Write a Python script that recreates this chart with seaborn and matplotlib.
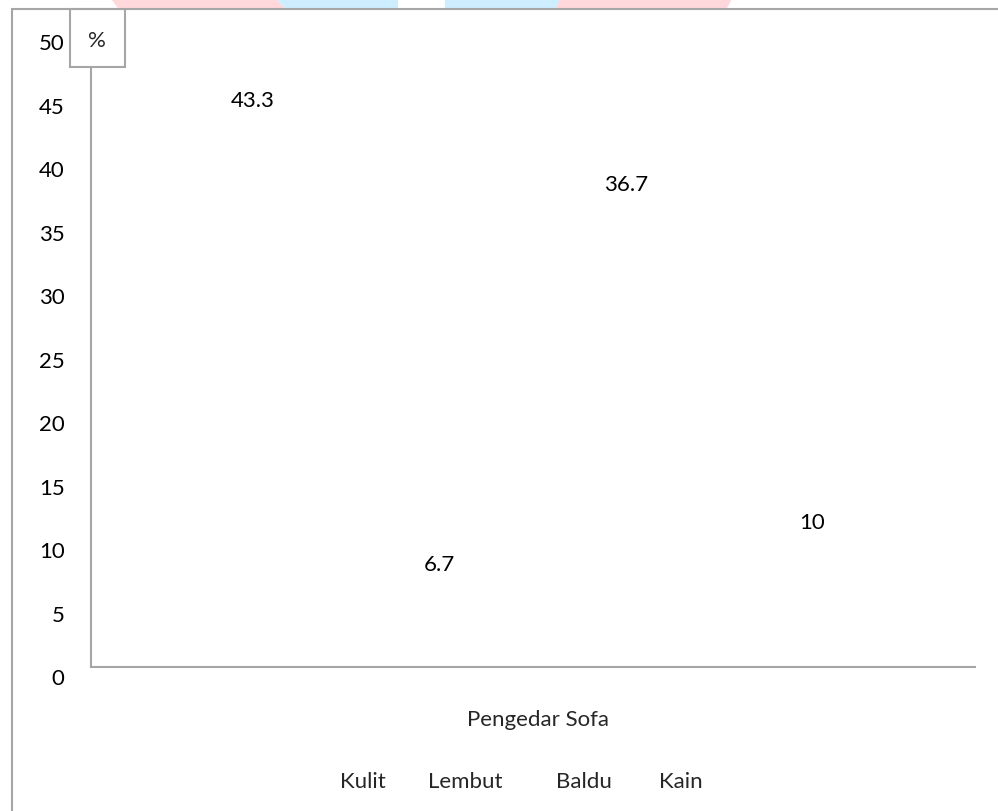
import matplotlib
matplotlib.use("Agg")
import matplotlib.pyplot as plt
import matplotlib.transforms as mtransforms
from matplotlib.patches import Rectangle, Polygon
from matplotlib.lines import Line2D
import seaborn as sns

categories = ["Kulit", "Lembut", "Baldu", "Kain"]
values = [43.3, 6.7, 36.7, 10]
value_labels = ["43.3", "6.7", "36.7", "10"]
y_ticks = [0, 5, 10, 15, 20, 25, 30, 35, 40, 45, 50]
x_title = "Pengedar Sofa"
unit_label = "%"

sns.set_theme(style="white")
plt.rcParams["font.family"] = ["Lato", "DejaVu Sans"]

W, H = 998, 812
fig = plt.figure(figsize=(W / 100, H / 100), dpi=100)
grey = "#a6a6a6"
fs = 16


def fx(px):
    return px / W


def fy(py):
    return 1 - py / H


# axes box in pixels: left 91, right 975, top 10, bottom 668
ax = fig.add_axes([fx(91), fy(668), fx(975 - 91), (668 - 10) / H])

sns.barplot(x=categories, y=values, color="white", linewidth=0, ax=ax)
ax.bar_label(ax.containers[0], labels=value_labels, padding=5.5,
             fontsize=fs, color="black")

ax.set_xlim(-0.87, 3.875)
ax.set_ylim(0, 51.85)
ax.set_yticks(y_ticks)
ax.set_yticklabels([str(t) for t in y_ticks], fontsize=fs, color="black")
ax.tick_params(axis="y", length=0, pad=19)
ax.set_xticks([])
ax.set_xlabel("")
ax.set_ylabel("")

# shift y tick labels down slightly like the source
offset = mtransforms.ScaledTranslation(0, -9 / 100, fig.dpi_scale_trans)
for lab in ax.get_yticklabels():
    lab.set_transform(lab.get_transform() + offset)

for s in ["top", "right"]:
    ax.spines[s].set_visible(False)
for s in ["left", "bottom"]:
    ax.spines[s].set_color(grey)
    ax.spines[s].set_linewidth(1.5)
ax.spines["left"].set_bounds(0, (668 - 68) / 12.69)

# outer frame (top and left only)
fig.add_artist(Line2D([fx(12), fx(998)], [fy(10), fy(10)], color=grey, lw=1.5))
fig.add_artist(Line2D([fx(12), fx(12)], [fy(10), fy(812)], color=grey, lw=1.5))

# % box
fig.add_artist(Rectangle((fx(70), fy(68)), fx(55), (68 - 10) / H,
                         fill=False, edgecolor=grey, lw=1.5))
fig.text(fx(97), fy(41), unit_label, ha="center", va="center", fontsize=fs)

# faint shapes above the frame
pink, blue = "#ffd8dc", "#cdeeff"
shapes = [
    (pink, [(111, 0), (276, 0), (285, 9), (118, 9)]),
    (blue, [(276, 0), (398, 0), (398, 9), (285, 9)]),
    (blue, [(445, 0), (560, 0), (556, 9), (445, 9)]),
    (pink, [(560, 0), (732, 0), (727, 9), (556, 9)]),
]
for col, pts in shapes:
    fig.add_artist(Polygon([(fx(x), fy(y)) for x, y in pts], closed=True,
                           facecolor=col, edgecolor="none"))

# x title and category line under the plot
fig.text(fx(538), fy(720), x_title, ha="center", va="center", fontsize=fs)
cat_x = [363, 465, 584, 681]
for name, px in zip(categories, cat_x):
    fig.text(fx(px), fy(782), name, ha="center", va="center", fontsize=fs)

fig.savefig("out.png", dpi=100, facecolor="white")
